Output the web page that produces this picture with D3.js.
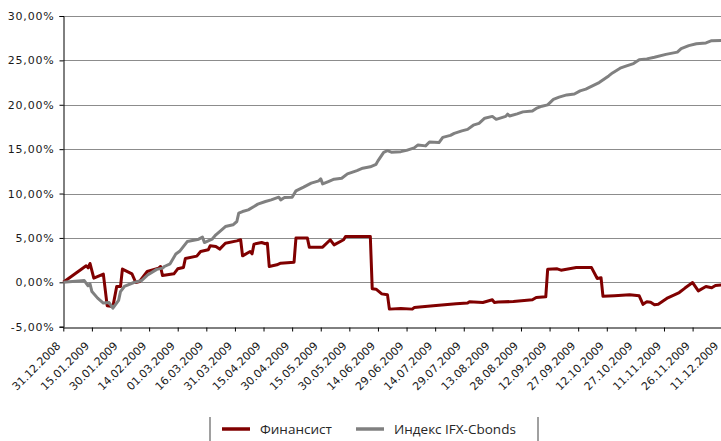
<!DOCTYPE html>
<html>
<head>
<meta charset="utf-8">
<script src="https://cdn.jsdelivr.net/npm/d3@7"></script>
<style>
  body { margin: 0; background: #fff; }
  svg { display: block; }
</style>
</head>
<body>
<div id="chart"></div>
<script>
// cumulative return, % since 31.12.2008
const finDates = ['31.12.2008', '12.01.2009', '13.01.2009', '14.01.2009', '16.01.2009', '21.01.2009', '23.01.2009', '26.01.2009', '28.01.2009', '30.01.2009',
  '31.01.2009', '05.02.2009', '07.02.2009', '09.02.2009', '13.02.2009', '19.02.2009', '20.02.2009', '21.02.2009', '27.02.2009', '01.03.2009',
  '04.03.2009', '05.03.2009', '11.03.2009', '13.03.2009', '17.03.2009', '18.03.2009', '21.03.2009', '23.03.2009', '26.03.2009', '01.04.2009',
  '03.04.2009', '04.04.2009', '08.04.2009', '09.04.2009', '10.04.2009', '14.04.2009', '16.04.2009', '17.04.2009', '18.04.2009', '22.04.2009',
  '24.04.2009', '01.05.2009', '02.05.2009', '08.05.2009', '09.05.2009', '16.05.2009', '20.05.2009', '22.05.2009', '27.05.2009', '28.05.2009',
  '10.06.2009', '11.06.2009', '13.06.2009', '16.06.2009', '19.06.2009', '20.06.2009', '26.06.2009', '02.07.2009', '03.07.2009', '13.07.2009',
  '25.07.2009', '31.07.2009', '01.08.2009', '08.08.2009', '13.08.2009', '14.08.2009', '16.08.2009', '24.08.2009', '03.09.2009', '05.09.2009',
  '10.09.2009', '11.09.2009', '16.09.2009', '18.09.2009', '26.09.2009', '04.10.2009', '07.10.2009', '09.10.2009', '10.10.2009', '16.10.2009',
  '24.10.2009', '29.10.2009', '31.10.2009', '02.11.2009', '04.11.2009', '06.11.2009', '08.11.2009', '13.11.2009', '19.11.2009', '22.11.2009',
  '26.11.2009', '29.11.2009', '03.12.2009', '06.12.2009', '08.12.2009', '11.12.2009'];
const finValues = [0, 1.86, 1.63, 2.12, 0.47, 0.92, -2.63, -2.74, -0.47, -0.47,
  1.49, 0.96, -0.02, 0.09, 1.22, 1.60, 1.78, 0.77, 0.96, 1.52,
  1.67, 2.68, 2.95, 3.47, 3.66, 4.11, 4.03, 3.74, 4.41, 4.67,
  4.79, 2.98, 3.47, 3.21, 4.30, 4.48, 4.34, 4.41, 1.78, 1.97,
  2.16, 2.27, 4.98, 4.98, 3.96, 3.96, 4.79, 4.22, 4.79, 5.16,
  5.16, -0.73, -0.77, -1.30, -1.41, -3.02, -2.95, -3.02, -2.84, -2.65,
  -2.42, -2.34, -2.20, -2.27, -1.97, -2.27, -2.23, -2.16, -1.97, -1.71,
  -1.63, 1.46, 1.52, 1.37, 1.67, 1.66, 0.43, 0.51, -1.58, -1.52,
  -1.41, -1.52, -2.48, -2.20, -2.25, -2.53, -2.48, -1.75, -1.15, -0.65,
  -0.03, -0.96, -0.47, -0.62, -0.36, -0.30];

const ifxDates = ['31.12.2008', '11.01.2009', '13.01.2009', '14.01.2009', '15.01.2009', '18.01.2009', '21.01.2009', '24.01.2009', '26.01.2009', '29.01.2009',
  '30.01.2009', '01.02.2009', '06.02.2009', '10.02.2009', '13.02.2009', '18.02.2009', '21.02.2009', '22.02.2009', '25.02.2009', '28.02.2009',
  '02.03.2009', '06.03.2009', '12.03.2009', '14.03.2009', '15.03.2009', '19.03.2009', '21.03.2009', '23.03.2009', '26.03.2009', '30.03.2009',
  '01.04.2009', '02.04.2009', '04.04.2009', '07.04.2009', '10.04.2009', '12.04.2009', '16.04.2009', '19.04.2009', '23.04.2009', '24.04.2009',
  '26.04.2009', '30.04.2009', '02.05.2009', '06.05.2009', '10.05.2009', '14.05.2009', '15.05.2009', '16.05.2009', '19.05.2009', '22.05.2009',
  '26.05.2009', '29.05.2009', '03.06.2009', '06.06.2009', '10.06.2009', '13.06.2009', '14.06.2009', '17.06.2009', '19.06.2009', '21.06.2009',
  '26.06.2009', '29.06.2009', '03.07.2009', '05.07.2009', '09.07.2009', '11.07.2009', '16.07.2009', '18.07.2009', '22.07.2009', '24.07.2009',
  '28.07.2009', '31.07.2009', '03.08.2009', '06.08.2009', '09.08.2009', '13.08.2009', '15.08.2009', '20.08.2009', '21.08.2009', '22.08.2009',
  '26.08.2009', '29.08.2009', '03.09.2009', '05.09.2009', '08.09.2009', '11.09.2009', '14.09.2009', '17.09.2009', '21.09.2009', '25.09.2009',
  '28.09.2009', '01.10.2009', '05.10.2009', '08.10.2009', '13.10.2009', '15.10.2009', '19.10.2009', '22.10.2009', '26.10.2009', '29.10.2009',
  '02.11.2009', '06.11.2009', '12.11.2009', '18.11.2009', '20.11.2009', '24.11.2009', '28.11.2009', '03.12.2009', '06.12.2009', '11.12.2009'];
const ifxValues = [0, 0.20, -0.39, -0.17, -1.04, -1.78, -2.34, -2.27, -2.91, -2.03,
  -1.04, -0.47, -0.02, 0.20, 0.79, 1.46, 1.60, 1.78, 2.08, 3.18,
  3.49, 4.59, 4.86, 5.09, 4.48, 4.86, 5.35, 5.72, 6.28, 6.48,
  6.85, 7.79, 7.97, 8.16, 8.54, 8.81, 9.10, 9.29, 9.59, 9.29,
  9.55, 9.59, 10.30, 10.72, 11.17, 11.43, 11.66, 11.09, 11.35, 11.62,
  11.73, 12.22, 12.59, 12.86, 13.01, 13.29, 13.68, 14.64, 14.83, 14.66,
  14.72, 14.86, 15.15, 15.48, 15.37, 15.80, 15.74, 16.33, 16.55, 16.78,
  17.06, 17.23, 17.70, 17.91, 18.49, 18.69, 18.36, 18.69, 18.95, 18.73,
  18.98, 19.20, 19.31, 19.59, 19.84, 19.99, 20.61, 20.86, 21.11, 21.21,
  21.57, 21.77, 22.18, 22.50, 23.25, 23.59, 24.12, 24.35, 24.64, 25.06,
  25.17, 25.36, 25.68, 25.93, 26.32, 26.66, 26.88, 26.97, 27.22, 27.25];

const xTickLabels = ['31.12.2008', '15.01.2009', '30.01.2009', '14.02.2009', '01.03.2009', '16.03.2009', '31.03.2009', '15.04.2009',
  '30.04.2009', '15.05.2009', '30.05.2009', '14.06.2009', '29.06.2009', '14.07.2009', '29.07.2009', '13.08.2009',
  '28.08.2009', '12.09.2009', '27.09.2009', '12.10.2009', '27.10.2009', '11.11.2009', '26.11.2009', '11.12.2009'];
const yTicks = [-5, 0, 5, 10, 15, 20, 25, 30];

const seriesNames = ['Финансист', 'Индекс IFX-Cbonds'];
const seriesColors = ['#800000', '#808080'];

const W = 721, H = 441;
const plotLeft = 63.3, plotRight = 721.2, plotTop = 16, plotBottom = 326.7;

const parse = d3.utcParse('%d.%m.%Y');
const ru = d3.formatLocale({ decimal: ',', thousands: ' ', grouping: [3], currency: ['', ''], minus: '-' });
const fmt = ru.format('.2f');

const svg = d3.select('#chart').append('svg')
  .attr('width', W)
  .attr('height', H);

const x = d3.scaleUtc()
  .domain([parse(xTickLabels[0]), parse(xTickLabels[xTickLabels.length - 1])])
  .range([plotLeft, plotRight]);
const y = d3.scaleLinear()
  .domain([-5, 30])
  .range([plotBottom, plotTop]);

// gridlines
svg.append('g')
  .selectAll('line')
  .data(yTicks.filter(function(d) { return d > -5; }))
  .enter().append('line')
  .attr('x1', plotLeft)
  .attr('x2', plotRight)
  .attr('y1', function(d) { return Math.round(y(d)) + 0.5; })
  .attr('y2', function(d) { return Math.round(y(d)) + 0.5; })
  .attr('stroke', '#8c8c8c')
  .attr('stroke-width', 1);

// y axis
const yAxis = svg.append('g')
  .attr('transform', 'translate(' + (Math.round(plotLeft) + 0.5) + ',0)')
  .call(d3.axisLeft(y)
    .tickValues(yTicks)
    .tickSize(4)
    .tickPadding(5)
    .tickFormat(function(d) { return fmt(d) + '%'; }));
yAxis.select('.domain').attr('stroke', '#000');
yAxis.selectAll('.tick line').attr('stroke', '#000');
yAxis.selectAll('.tick text')
  .attr('fill', '#1a1a1a')
  .style('font-family', '"DejaVu Sans", Verdana, sans-serif')
  .style('font-size', '11px')
  .style('letter-spacing', '0.8px');

// x axis
const xAxis = svg.append('g')
  .attr('transform', 'translate(0,' + (Math.round(plotBottom) + 0.5) + ')')
  .call(d3.axisBottom(x)
    .tickValues(xTickLabels.map(parse))
    .tickSize(4)
    .tickSizeOuter(0)
    .tickFormat(function(d, i) { return xTickLabels[i]; }));
xAxis.select('.domain').attr('stroke', '#000');
xAxis.selectAll('.tick line').attr('stroke', '#000');
xAxis.selectAll('.tick text')
  .attr('fill', '#1a1a1a')
  .attr('text-anchor', 'end')
  .attr('dy', null)
  .attr('y', 0)
  .attr('transform', 'translate(-2.5,19) rotate(-45)')
  .style('font-family', '"DejaVu Sans", Verdana, sans-serif')
  .style('font-size', '11px');

// series lines, index drawn last
const series = [
  { name: seriesNames[0], color: seriesColors[0], dates: finDates, values: finValues },
  { name: seriesNames[1], color: seriesColors[1], dates: ifxDates, values: ifxValues },
];

const line = d3.line()
  .x(function(d) { return x(d.date); })
  .y(function(d) { return y(d.value); });

series.forEach(function(s) {
  const pts = s.dates.map(function(d, i) {
    return { date: parse(d), value: s.values[i] };
  });
  svg.append('path')
    .datum(pts)
    .attr('fill', 'none')
    .attr('stroke', s.color)
    .attr('stroke-width', 3)
    .attr('stroke-linejoin', 'round')
    .attr('d', line);
});

// legend
const legend = svg.append('g');
legend.selectAll('line.sep')
  .data([210, 538])
  .enter().append('line')
  .attr('class', 'sep')
  .attr('x1', function(d) { return d; })
  .attr('x2', function(d) { return d; })
  .attr('y1', 417)
  .attr('y2', H)
  .attr('stroke', '#808080')
  .attr('stroke-width', 1.5);

const items = legend.selectAll('g.item')
  .data(series)
  .enter().append('g')
  .attr('class', 'item')
  .attr('transform', function(d, i) { return 'translate(' + [222, 356][i] + ',429)'; });
items.append('line')
  .attr('x1', 0)
  .attr('x2', 28)
  .attr('stroke', function(d) { return d.color; })
  .attr('stroke-width', 3.5);
items.append('text')
  .attr('x', 38)
  .attr('y', 5)
  .attr('fill', '#262626')
  .style('font-family', '"Open Sans", "Noto Sans", sans-serif')
  .style('font-size', '13.5px')
  .text(function(d) { return d.name; });
</script>
</body>
</html>
